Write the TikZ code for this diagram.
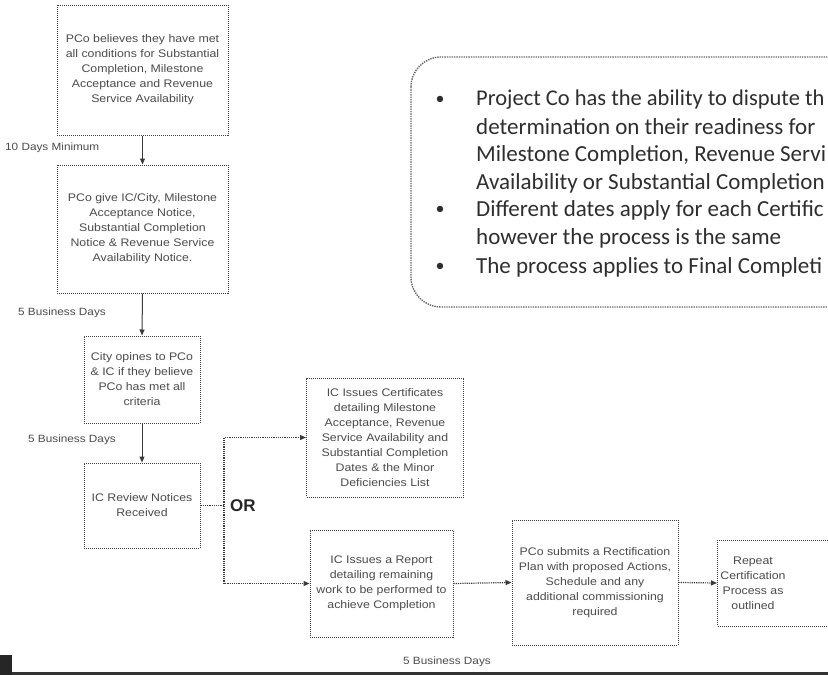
\documentclass[tikz,border=0pt]{standalone}
\usepackage{fontspec}
\setmainfont{Liberation Sans}
\newfontfamily\boxfont[FakeStretch=1.12]{Liberation Sans}
\newfontfamily\calibfont{Carlito}
\usetikzlibrary{arrows.meta}
\definecolor{txtgray}{HTML}{4A4A4A}
\definecolor{linegray}{HTML}{3A3A3A}
\tikzset{
  stepbox/.style={draw=linegray, densely dotted, line width=1pt, align=center,
    text=txtgray, font=\boxfont\fontsize{11}{15}\selectfont, inner sep=2pt},
  boxtext/.style={align=center, text=txtgray, font=\boxfont\fontsize{11}{15}\selectfont},
  daylabel/.style={text=txtgray, font=\boxfont\fontsize{10.5}{12}\selectfont, anchor=west, inner sep=0pt},
  solidarrow/.style={draw=linegray, line width=1pt, -{Triangle[length=6pt,width=5pt]}},
  dotarrow/.style={draw=linegray, densely dotted, line width=1.2pt, -{Triangle[length=6pt,width=5pt]}},
  bullettext/.style={anchor=west, inner sep=0pt, text=black!82, font=\calibfont\fontsize{23}{27}\selectfont},
  bulletdot/.style={anchor=center, inner sep=0pt, text=black!82, font=\calibfont\fontsize{18}{20}\selectfont}
}
\begin{document}
\begin{tikzpicture}[x=1pt,y=-1pt]
\useasboundingbox (0,0) rectangle (828,675);
\begin{scope}
\clip (0,0) rectangle (828,675);
% note box
\draw[draw=gray!80!black, densely dotted, line width=1.4pt, rounded corners=30pt] (411,57) rectangle (880,307);
\node[bulletdot] (d1) at (440,100) {•};
\node[bullettext, font=\calibfont\fontsize{22.5}{27}\selectfont] (l1) at (476,100) {Project Co has the ability to dispute th};
\node[bullettext] (l2) at (476,127) {determination on their readiness for};
\node[bullettext] (l3) at (476,155) {Milestone Completion, Revenue Servi};
\node[bullettext] (l4) at (476,183) {Availability or Substantial Completion};
\node[bulletdot] (d2) at (440,210) {•};
\node[bullettext] (l5) at (476,210) {Different dates apply for each Certific};
\node[bullettext] (l6) at (476,238) {however the process is the same};
\node[bulletdot] (d3) at (440,267) {•};
\node[bullettext] (l7) at (476,267) {The process applies to Final Completi};

% boxes
\node[stepbox, minimum width=171pt, minimum height=130pt] (b1) at (142.5,70)
  {PCo believes they have met\\all conditions for Substantial\\Completion, Milestone\\Acceptance and Revenue\\Service Availability};
\node[stepbox, minimum width=171pt, minimum height=128pt] (b2) at (142.5,229)
  {PCo give IC/City, Milestone\\Acceptance Notice,\\Substantial Completion\\Notice \& Revenue Service\\Availability Notice.};
\node[stepbox, minimum width=116pt, minimum height=87pt] (b3) at (142,379.5)
  {City opines to PCo\\\& IC if they believe\\PCo has met all\\criteria};
\node[stepbox, minimum width=116pt, minimum height=85pt] (b4) at (142,505.5)
  {IC Review Notices\\Received};
\node[stepbox, minimum width=157pt, minimum height=119pt] (b5) at (385,437.5)
  {IC Issues Certificates\\detailing Milestone\\Acceptance, Revenue\\Service Availability and\\Substantial Completion\\Dates \& the Minor\\Deficiencies List};
\node[stepbox, minimum width=143pt, minimum height=107pt] (b6) at (381.5,583.5)
  {IC Issues a Report\\detailing remaining\\work to be performed to\\achieve Completion};
\node[stepbox, minimum width=166pt, minimum height=125pt] (b7) at (595,582.5)
  {PCo submits a Rectification\\Plan with proposed Actions,\\Schedule and any\\additional commissioning\\required};
\node[stepbox, minimum width=160pt, minimum height=86pt, anchor=west] (b8) at (717,583) {};
\node[boxtext] (t8) at (753,583) {Repeat\\Certification\\Process as\\outlined};

% labels
\node[daylabel] (lab1) at (5,148) {10 Days Minimum};
\node[daylabel] (lab2) at (18,313) {5 Business Days};
\node[daylabel] (lab3) at (28,440) {5 Business Days};
\node[daylabel] (lab4) at (403,662) {5 Business Days};
\node[anchor=west, inner sep=0pt, font=\fontsize{17}{20}\selectfont\bfseries, text=black!85] (or) at (230,506) {OR};

% connectors
\draw[solidarrow] (b1.south) -- (b2.north);
\draw[solidarrow] (b2.south) -- (b3.north);
\draw[solidarrow] (b3.south) -- (b4.north);
\coordinate (split) at (224,505.5);
\draw[dotarrow] (b4.east) -- (split) |- (b5.west);
\draw[dotarrow] (split) |- (b6.west);
\draw[dotarrow] (b6.east) -- (b7.west);
\draw[dotarrow] (b7.east) -- (b8.west);

% bottom strip
\fill[black!80] (0,672) rectangle (828,675);
\fill[black!85] (0,655) rectangle (12,675);
\end{scope}
\end{tikzpicture}
\end{document}
